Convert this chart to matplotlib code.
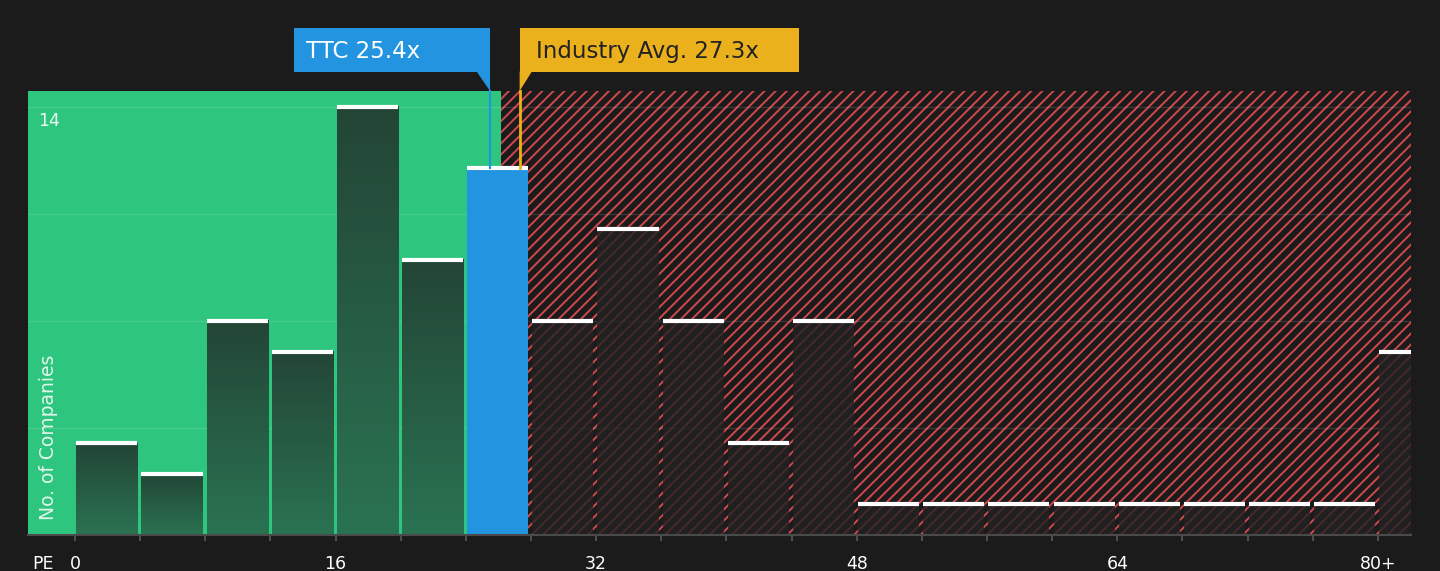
import numpy as np
import matplotlib
matplotlib.use("Agg")
import matplotlib.pyplot as plt
from matplotlib.colors import LinearSegmentedColormap
from matplotlib.patches import Rectangle, Polygon
import matplotlib.transforms as mtransforms

# data
bin_starts = [0, 4, 8, 12, 16, 20, 24, 28, 32, 36, 40, 44, 48, 52, 56, 60, 64, 68, 72, 76, 80]
counts = [3, 2, 7, 6, 14, 9, 12, 7, 10, 7, 3, 7, 1, 1, 1, 1, 1, 1, 1, 1, 6]
tick_values = [0, 16, 32, 48, 64, 80]
tick_labels = ["0", "16", "32", "48", "64", "80+"]
ttc_pe = 25.4
industry_pe = 27.3
ttc_label = "TTC 25.4x"
industry_label = "Industry Avg. 27.3x"

BG = "#1b1b1b"
GREEN = "#2ec67e"
RED = "#d1484e"
BLUE = "#2394e0"
GOLD = "#ebb11d"
BAR_W = 3.75
SPLIT = 26.15
XMIN, XMAX = -2.886, 82.03
YMAX = 14.52

plt.rcParams["hatch.linewidth"] = 1.4
plt.rcParams["font.family"] = ["DejaVu Sans"]

fig = plt.figure(figsize=(14.4, 5.71), dpi=100, facecolor=BG)
ax = fig.add_axes([28 / 1440, 36 / 571, 1383 / 1440, 444 / 571])
ax.set_facecolor(BG)

# green "fair" zone and red hatched zone
ax.axvspan(XMIN, SPLIT, facecolor=GREEN, edgecolor="none", zorder=0)
ax.axvspan(SPLIT, XMAX, facecolor=BG, edgecolor=RED, hatch="///", linewidth=0, zorder=0)

for gy in [3.5, 7, 10.5, 14]:
    ax.axhline(gy, color="white", alpha=0.12, lw=1, zorder=1)

green_cmap = LinearSegmentedColormap.from_list("g", ["#2a7352", "#234536"])
grad = np.linspace(0, 1, 256).reshape(-1, 1)

for start, c in zip(bin_starts, counts):
    x0 = start + 0.08
    x1 = x0 + BAR_W
    if start == 24:
        ax.bar(x0, c, width=BAR_W, align="edge", color=BLUE, zorder=3)
    elif x1 <= SPLIT:
        ax.imshow(grad, extent=[x0, x1, 0, c], origin="lower", aspect="auto",
                  cmap=green_cmap, zorder=3)
    else:
        ax.bar(x0, c, width=BAR_W, align="edge", color="#222222", alpha=0.8,
               linewidth=0, zorder=3)
    ax.plot([x0, x1], [c, c], color="white", lw=3, solid_capstyle="butt", zorder=4)

ax.set_xlim(XMIN, XMAX)
ax.set_ylim(0, YMAX)

# marker lines from the TTC bar top up to the labels
ttc_count = counts[bin_starts.index(24)]
trans = mtransforms.blended_transform_factory(ax.transData, ax.transAxes)
ax.plot([ttc_pe + 0.1, ttc_pe + 0.1], [ttc_count, YMAX], color=BLUE, lw=1.6,
        zorder=5, clip_on=False)
ax.plot([industry_pe + 0.05, industry_pe + 0.05], [ttc_count, YMAX], color=GOLD, lw=2,
        zorder=5, clip_on=False)

box_y0, box_y1 = 1.0428, 1.1419
ttc_w = 12.03
ind_w = 17.13
ax.add_patch(Rectangle((ttc_pe + 0.1 - ttc_w, box_y0), ttc_w, box_y1 - box_y0,
                       transform=trans, facecolor=BLUE, edgecolor="none",
                       clip_on=False, zorder=6))
ax.add_patch(Polygon([(ttc_pe + 0.1 - 0.8, box_y0 + 0.001), (ttc_pe + 0.1, box_y0 + 0.001),
                      (ttc_pe + 0.1, 1.0)], closed=True, transform=trans,
                     facecolor=BLUE, edgecolor="none", clip_on=False, zorder=6))
ax.text(ttc_pe + 0.1 - ttc_w + 0.7, (box_y0 + box_y1) / 2 - 0.004, ttc_label, transform=trans,
        color="white", fontsize=16.5, va="center", ha="left", zorder=7)

ax.add_patch(Rectangle((industry_pe, box_y0), ind_w, box_y1 - box_y0,
                       transform=trans, facecolor=GOLD, edgecolor="none",
                       clip_on=False, zorder=6))
ax.add_patch(Polygon([(industry_pe, box_y0 + 0.001), (industry_pe + 0.75, box_y0 + 0.001),
                      (industry_pe, 1.0)], closed=True, transform=trans,
                     facecolor=GOLD, edgecolor="none", clip_on=False, zorder=6))
ax.text(industry_pe + 1.0, (box_y0 + box_y1) / 2 - 0.004, industry_label, transform=trans,
        color="#222222", fontsize=16.5, va="center", ha="left", zorder=7)

# axes styling
for side in ["top", "right", "left"]:
    ax.spines[side].set_visible(False)
ax.spines["bottom"].set_color("#4a4a4a")
ax.spines["bottom"].set_linewidth(1.5)
ax.spines["bottom"].set_zorder(5)

ax.set_xticks(list(range(0, 84, 4)))
ax.set_xticklabels([tick_labels[tick_values.index(v)] if v in tick_values else ""
                    for v in range(0, 84, 4)])
ax.tick_params(axis="x", colors="#5a5a5a", length=4.5, width=1.2, pad=10,
               labelcolor="white", labelsize=12.5)
ax.set_yticks([])

ax.text(-2.65, -0.94, "PE", color="white", fontsize=12.5, ha="left", va="center")
ax.text(-2.25, 13.55, "14", color="white", alpha=0.9, fontsize=12.5, ha="left", va="center",
        zorder=5)
ax.text(-1.65, 0.5, "No. of Companies", color="white", alpha=0.85, fontsize=13.5,
        rotation=90, ha="center", va="bottom", zorder=5)

fig.savefig("out.png", dpi=100, facecolor=BG)
